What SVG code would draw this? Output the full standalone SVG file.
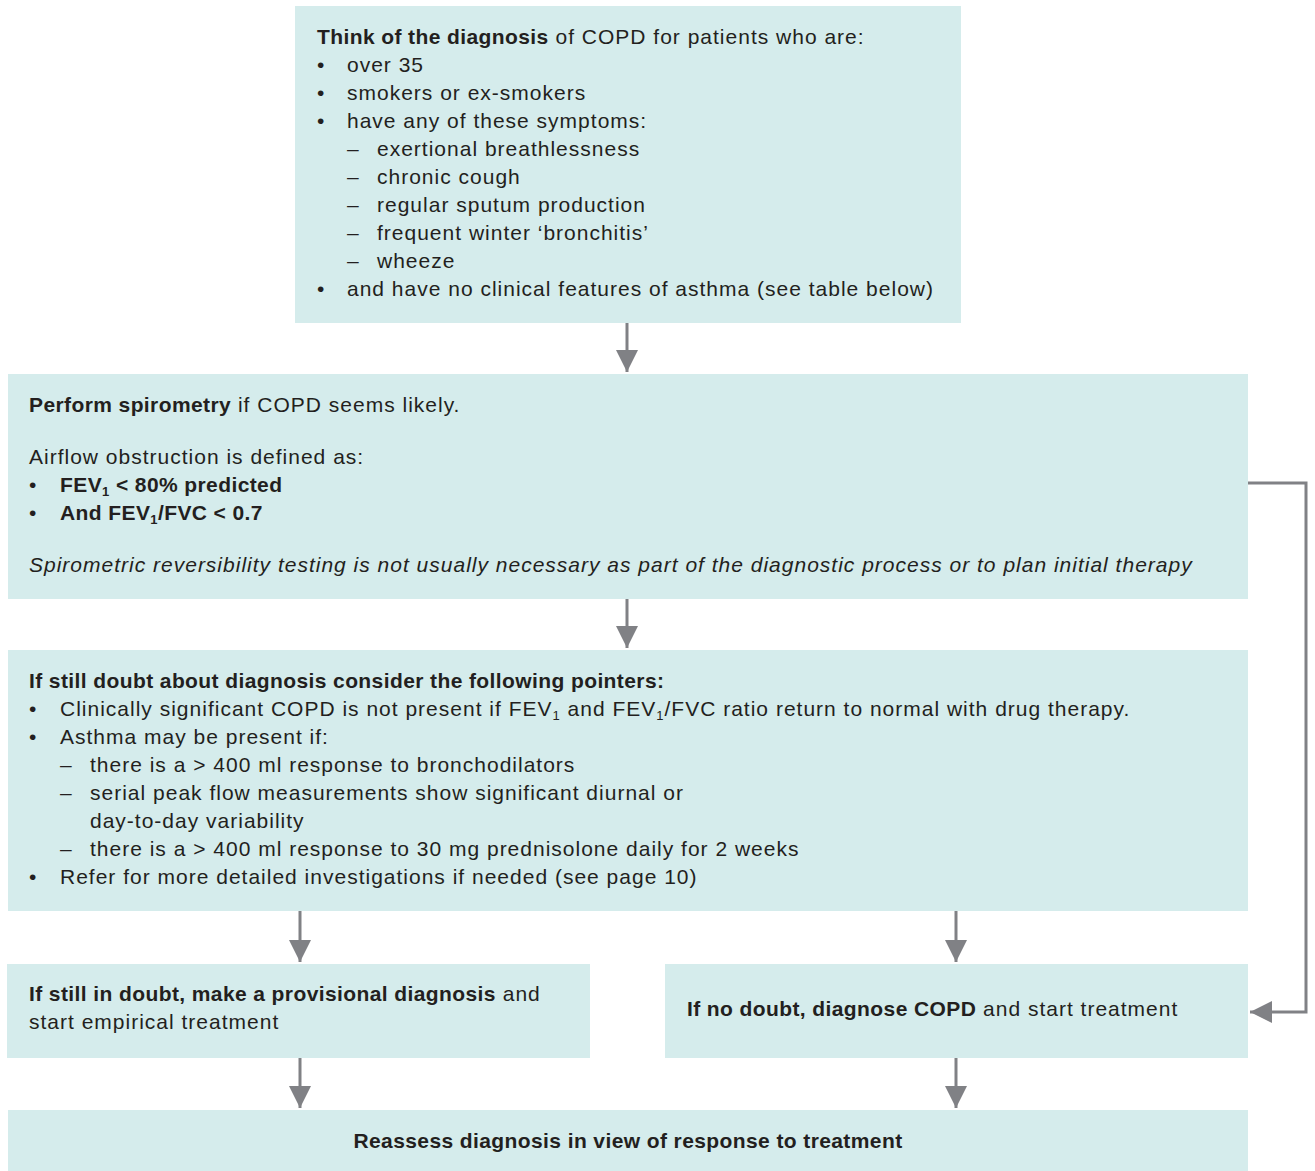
<svg xmlns="http://www.w3.org/2000/svg" width="1315" height="1171" viewBox="0 0 1315 1171">
<style>
.box{fill:#d5ecec}
text{font-family:"Liberation Sans",Arial,sans-serif;font-size:21px;fill:#231f20;letter-spacing:1px}
.b{font-weight:bold;letter-spacing:0.4px}
.i{font-style:italic}
.c{fill:none;stroke:#808185;stroke-width:3}
</style>
<defs>
<marker id="ah" viewBox="0 0 22 22" refX="22" refY="11" markerWidth="22" markerHeight="22" markerUnits="userSpaceOnUse" orient="auto">
<path d="M0,0 L22,11 L0,22 z" fill="#808185"/>
</marker>
</defs>
<rect width="1315" height="1171" fill="#fff"/>
<g id="connectors">
<line class="c" x1="627" y1="323" x2="627" y2="372" marker-end="url(#ah)"/>
<line class="c" x1="627" y1="599" x2="627" y2="648" marker-end="url(#ah)"/>
<line class="c" x1="300" y1="911" x2="300" y2="962" marker-end="url(#ah)"/>
<line class="c" x1="956" y1="911" x2="956" y2="962" marker-end="url(#ah)"/>
<line class="c" x1="300" y1="1058" x2="300" y2="1108" marker-end="url(#ah)"/>
<line class="c" x1="956" y1="1058" x2="956" y2="1108" marker-end="url(#ah)"/>
<polyline class="c" points="1248,483 1306,483 1306,1012 1250,1012" marker-end="url(#ah)"/>
</g>
<g id="node1">
<rect class="box" x="295" y="6" width="666" height="317"/>
<text x="317" y="44"><tspan class="b">Think of the diagnosis</tspan> of COPD for patients who are:</text>
<text x="317" y="72">•</text><text x="347" y="72">over 35</text>
<text x="317" y="100">•</text><text x="347" y="100">smokers or ex-smokers</text>
<text x="317" y="128">•</text><text x="347" y="128">have any of these symptoms:</text>
<text x="347" y="156">–</text><text x="377" y="156">exertional breathlessness</text>
<text x="347" y="184">–</text><text x="377" y="184">chronic cough</text>
<text x="347" y="212">–</text><text x="377" y="212">regular sputum production</text>
<text x="347" y="240">–</text><text x="377" y="240">frequent winter ‘bronchitis’</text>
<text x="347" y="268">–</text><text x="377" y="268">wheeze</text>
<text x="317" y="296">•</text><text x="347" y="296">and have no clinical features of asthma (see table below)</text>
</g>
<g id="node2">
<rect class="box" x="8" y="374" width="1240" height="225"/>
<text x="29" y="412"><tspan class="b">Perform spirometry</tspan> if COPD seems likely.</text>
<text x="29" y="464">Airflow obstruction is defined as:</text>
<text x="29" y="492">•</text><text x="60" y="492" class="b">FEV<tspan font-size="13" dy="4">1</tspan><tspan dy="-4"> &lt; 80% predicted</tspan></text>
<text x="29" y="520">•</text><text x="60" y="520" class="b">And FEV<tspan font-size="13" dy="4">1</tspan><tspan dy="-4">/FVC &lt; 0.7</tspan></text>
<text x="29" y="572" class="i">Spirometric reversibility testing is not usually necessary as part of the diagnostic process or to plan initial therapy</text>
</g>
<g id="node3">
<rect class="box" x="8" y="650" width="1240" height="261"/>
<text x="29" y="688" class="b">If still doubt about diagnosis consider the following pointers:</text>
<text x="29" y="716">•</text><text x="60" y="716">Clinically significant COPD is not present if FEV<tspan font-size="13" dy="4">1</tspan><tspan dy="-4"> and FEV</tspan><tspan font-size="13" dy="4">1</tspan><tspan dy="-4">/FVC ratio return to normal with drug therapy.</tspan></text>
<text x="29" y="744">•</text><text x="60" y="744">Asthma may be present if:</text>
<text x="60" y="772">–</text><text x="90" y="772">there is a &gt; 400 ml response to bronchodilators</text>
<text x="60" y="800">–</text><text x="90" y="800">serial peak flow measurements show significant diurnal or</text>
<text x="90" y="828">day-to-day variability</text>
<text x="60" y="856">–</text><text x="90" y="856">there is a &gt; 400 ml response to 30 mg prednisolone daily for 2 weeks</text>
<text x="29" y="884">•</text><text x="60" y="884">Refer for more detailed investigations if needed (see page 10)</text>
</g>
<g id="node4">
<rect class="box" x="7" y="964" width="583" height="94"/>
<text x="29" y="1001"><tspan class="b">If still in doubt, make a provisional diagnosis</tspan> and</text>
<text x="29" y="1029">start empirical treatment</text>
</g>
<g id="node5">
<rect class="box" x="665" y="964" width="583" height="94"/>
<text x="687" y="1016"><tspan class="b">If no doubt, diagnose COPD</tspan> and start treatment</text>
</g>
<g id="node6">
<rect class="box" x="8" y="1110" width="1240" height="61"/>
<text x="628" y="1148" class="b" text-anchor="middle">Reassess diagnosis in view of response to treatment</text>
</g>
</svg>
